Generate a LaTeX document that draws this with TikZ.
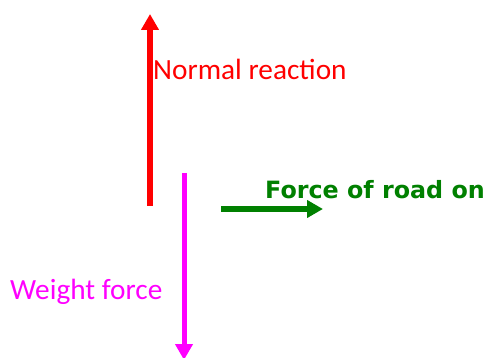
\documentclass[tikz,border=0pt]{standalone}
\usepackage{fontspec}
\setmainfont{Carlito}
\newfontfamily\comicfont{DejaVu Sans}
\usetikzlibrary{arrows.meta}

\definecolor{forcered}{RGB}{255,0,0}
\definecolor{forcemag}{RGB}{255,0,255}
\definecolor{forcegreen}{RGB}{0,128,0}

\tikzset{
  force/.style={line width=5.5pt, -{Triangle[length=16pt,width=17pt]}},
  lbl/.style={anchor=base west, inner sep=0pt, font=\fontsize{29.3}{35}\selectfont}
}

\begin{document}
\begin{tikzpicture}[x=1pt, y=-1pt]
  \useasboundingbox (0,0) rectangle (485,358);

  % normal reaction
  \coordinate (nbot) at (150,206);
  \coordinate (ntop) at (150,14);
  \draw[force, forcered] (nbot) -- (ntop);
  \node[lbl, text=forcered] (nlabel) at (153,80) {Normal reaction};

  % weight
  \coordinate (wtop) at (184,173);
  \coordinate (wbot) at (184,360);
  \draw[force, forcemag, line width=5pt] (wtop) -- (wbot);
  \node[lbl, text=forcemag] (wlabel) at (10,300) {Weight force};

  % force of road
  \coordinate (fleft) at (221,209);
  \coordinate (fright) at (323,209);
  \draw[force, forcegreen] (fleft) -- (fright);
  \node[lbl, text=forcegreen, font=\comicfont\bfseries\fontsize{23.8}{28}\selectfont] (flabel) at (265,199) {Force of road on};
\end{tikzpicture}
\end{document}
